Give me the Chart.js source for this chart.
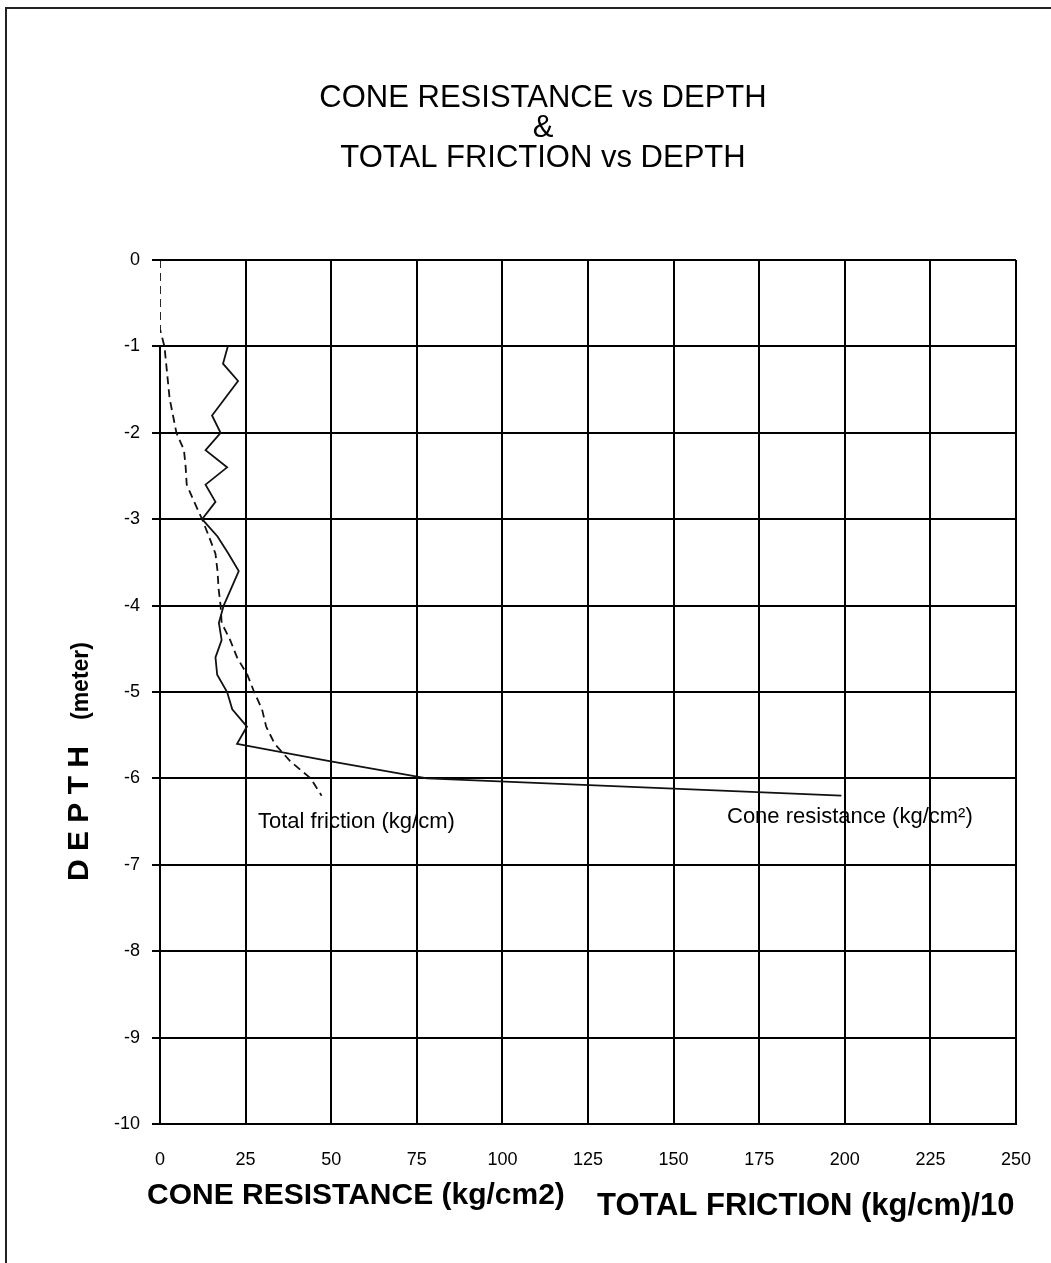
<!DOCTYPE html>
<html>
<head>
<meta charset="utf-8">
<script src="https://cdn.jsdelivr.net/npm/chart.js@4/dist/chart.umd.min.js"></script>
<style>
  html, body { margin: 0; padding: 0; background: #fff; }
  #wrap { position: relative; width: 1051px; height: 1263px; }
</style>
</head>
<body>
<div id="wrap"><canvas id="chart" width="1051" height="1263"></canvas></div>
<script>
// depth readings, metres (negative = below ground)
const coneDepth = [-1.0, -1.2, -1.4, -1.6, -1.8, -2.0, -2.2, -2.4, -2.6, -2.8, -3.0, -3.2, -3.4, -3.6,
  -3.8, -4.0, -4.2, -4.4, -4.6, -4.8, -5.0, -5.2, -5.4, -5.6, -5.8, -6.0, -6.2];
// cone resistance, kg/cm2
const coneValues = [19.8, 18.4, 22.8, 19, 15.2, 17.7, 13.3, 19.6, 13.3, 16.2, 12.3, 16.8, 20, 23,
  20.8, 18.6, 17.2, 18, 16.2, 16.7, 19.6, 21.1, 25.4, 22.5, 49.5, 78, 199];

const frictionDepth = [0, -0.2, -0.4, -0.6, -0.8, -1.0, -1.2, -1.4, -1.6, -1.8, -2.0, -2.2, -2.4, -2.6,
  -2.8, -3.0, -3.2, -3.4, -3.6, -3.8, -4.0, -4.2, -4.4, -4.6, -4.8, -5.0, -5.2, -5.4, -5.6, -5.8, -6.0, -6.2];
// total friction, kg/cm divided by 10
const frictionValues = [0, 0, 0, 0, 0, 1.3, 1.8, 2.3, 2.8, 3.8, 4.8, 7, 7.5, 7.8,
  10, 12.3, 14.3, 16.2, 16.8, 17.1, 17.7, 18, 20.5, 22.5, 25.5, 27.5, 29.8, 31, 33.5, 38, 44, 47.2];

const xTicks = [0, 25, 50, 75, 100, 125, 150, 175, 200, 225, 250];
const yTicks = [0, -1, -2, -3, -4, -5, -6, -7, -8, -9, -10];

const titleLines = ["CONE RESISTANCE vs DEPTH", "&", "TOTAL FRICTION vs DEPTH"];

const FONT = "'Liberation Sans', Arial, sans-serif";

const toPoints = (xs, ys) => xs.map((v, i) => ({ x: v, y: ys[i] }));

// titles, axis captions, series notes and the page frame
const decorations = {
  id: "decorations",
  beforeDatasetsDraw(chart) {
    // the left axis only shows from -1 down; above that the friction dashes sit on it
    const { x, y } = chart.scales;
    const ctx = chart.ctx;
    ctx.save();
    ctx.strokeStyle = "#000";
    ctx.lineWidth = 2;
    ctx.beginPath();
    ctx.moveTo(x.getPixelForValue(0), y.getPixelForValue(-1));
    ctx.lineTo(x.getPixelForValue(0), y.getPixelForValue(-10) + 1);
    ctx.stroke();
    ctx.restore();
  },
  afterDraw(chart) {
    const ctx = chart.ctx;
    ctx.save();
    ctx.fillStyle = "#000";
    ctx.textBaseline = "middle";

    // page frame (top + left only, like the original)
    ctx.strokeStyle = "#222";
    ctx.lineWidth = 2;
    ctx.beginPath();
    ctx.moveTo(6, 1263);
    ctx.lineTo(6, 8);
    ctx.lineTo(1051, 8);
    ctx.stroke();

    ctx.textAlign = "center";
    ctx.font = "31px " + FONT;
    titleLines.forEach((t, i) => ctx.fillText(t, 543, 98 + i * 30));

    ctx.textAlign = "left";
    ctx.font = "bold 30px " + FONT;
    ctx.fillText("CONE RESISTANCE (kg/cm2)", 147, 1196);
    ctx.font = "bold 31px " + FONT;
    ctx.fillText("TOTAL FRICTION (kg/cm)/10", 597, 1206);

    ctx.font = "22px " + FONT;
    ctx.fillText("Total friction (kg/cm)", 258, 822);
    ctx.fillText("Cone resistance (kg/cm\u00B2)", 727, 817);

    // rotated y caption
    ctx.translate(80, 0);
    ctx.rotate(-Math.PI / 2);
    ctx.font = "bold 30px " + FONT;
    ctx.fillText("D E P T H", -881, 0);
    ctx.font = "bold 23px " + FONT;
    ctx.fillText("(meter)", -720, 2);
    ctx.restore();
  },
};

new Chart(document.getElementById("chart"), {
  type: "scatter",
  data: {
    datasets: [
      {
        label: "Cone resistance (kg/cm²)",
        data: toPoints(coneValues, coneDepth),
        showLine: true,
        borderColor: "#111",
        borderWidth: 1.8,
        pointRadius: 0,
        tension: 0,
      },
      {
        label: "Total friction (kg/cm)",
        data: toPoints(frictionValues, frictionDepth),
        showLine: true,
        borderColor: "#111",
        borderWidth: 1.8,
        borderDash: [8, 5],
        pointRadius: 0,
        tension: 0,
      },
    ],
  },
  options: {
    responsive: false,
    devicePixelRatio: 1,
    animation: false,
    layout: { padding: { top: 260, right: 35, bottom: 0, left: 0 } },
    plugins: { legend: { display: false }, tooltip: { enabled: false } },
    scales: {
      x: {
        type: "linear",
        min: 0,
        max: 250,
        afterFit: (s) => { s.height = 139; s.paddingLeft = 0; s.paddingRight = 0; },
        afterBuildTicks: (s) => { s.ticks = xTicks.map((v) => ({ value: v })); },
        grid: {
          color: (c) => (c.tick && c.tick.value === 0 ? "rgba(0,0,0,0)" : "#000"),
          lineWidth: 2,
          drawTicks: false,
        },
        border: { color: "#000", width: 2 },
        ticks: { color: "#000", font: { family: FONT, size: 18 }, padding: 25 },
      },
      y: {
        type: "linear",
        min: -10,
        max: 0,
        afterFit: (s) => { s.width = 160; s.paddingTop = 0; s.paddingBottom = 0; },
        afterBuildTicks: (s) => { s.ticks = yTicks.map((v) => ({ value: v })); },
        grid: { color: "#000", lineWidth: 2, drawTicks: true, tickLength: 8 },
        border: { display: false },
        ticks: { color: "#000", font: { family: FONT, size: 18 }, padding: 12 },
      },
    },
  },
  plugins: [decorations],
});
</script>
</body>
</html>
